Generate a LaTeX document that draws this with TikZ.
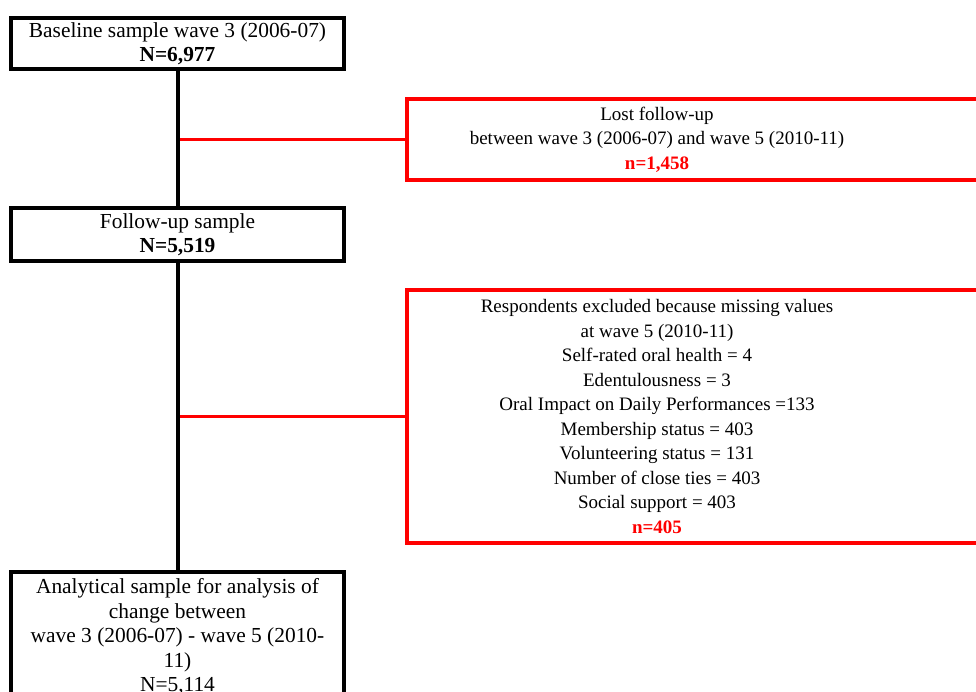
\documentclass[tikz,border=0pt]{standalone}
\usepackage{fontspec}
\setmainfont{Liberation Serif}
\definecolor{flowred}{RGB}{255,0,0}
\begin{document}
\begin{tikzpicture}[x=1pt,y=-1pt,
  samplebox/.style={draw=black,line width=4.6pt,minimum width=333pt,inner sep=0pt,
    align=center,font=\fontsize{21.4}{24}\selectfont},
  lossbox/.style={draw=flowred,line width=3.6pt,inner sep=0pt},
  losstext/.style={align=center,inner sep=0pt,font=\fontsize{19}{24.5}\selectfont},
  trunk/.style={draw=black,line width=4pt},
  branch/.style={draw=flowred,line width=3.6pt}]
\useasboundingbox (0,0) rectangle (976,691);
\clip (0,0) rectangle (976,691);

% sample boxes on the left
\node[samplebox,minimum height=51pt] (base) at (177.5,43.5)
  {Baseline sample wave 3 (2006-07)\\\textbf{N=6,977}};
\node[samplebox,minimum height=53pt] (follow) at (177.5,234.5)
  {Follow-up sample\\\textbf{N=5,519}};
\node[samplebox,minimum height=130pt,font=\fontsize{21.4}{24.5}\selectfont] (final) at (177.5,637)
  {Analytical sample for analysis of\\change between\\wave 3 (2006-07) - wave 5 (2010-\\11)\\N=5,114};

% exclusion boxes on the right
\node[lossbox,minimum width=603pt,minimum height=81pt] (lost) at (708.5,139.5) {};
\node[losstext] (losttxt) at (657,139.5)
  {Lost follow-up\\between wave 3 (2006-07) and wave 5 (2010-11)\\\textcolor{flowred}{\textbf{n=1,458}}};

\node[lossbox,minimum width=603pt,minimum height=253pt] (excl) at (708.5,416.5) {};
\node[losstext] (excltxt) at (657,416.5)
  {Respondents excluded because missing values\\at wave 5 (2010-11)\\Self-rated oral health = 4\\
   Edentulousness = 3\\Oral Impact on Daily Performances =133\\Membership status = 403\\
   Volunteering status = 131\\Number of close ties = 403\\Social support = 403\\
   \textcolor{flowred}{\textbf{n=405}}};

% branches to the exclusion boxes, then the main trunk
\coordinate (j1) at (base.south |- lost.west);
\coordinate (j2) at (base.south |- excl.west);
\draw[branch] (j1) -- (lost.west);
\draw[branch] (j2) -- (excl.west);
\draw[trunk] (base.south) -- (follow.north);
\draw[trunk] (follow.south) -- (final.north);
\end{tikzpicture}
\end{document}
